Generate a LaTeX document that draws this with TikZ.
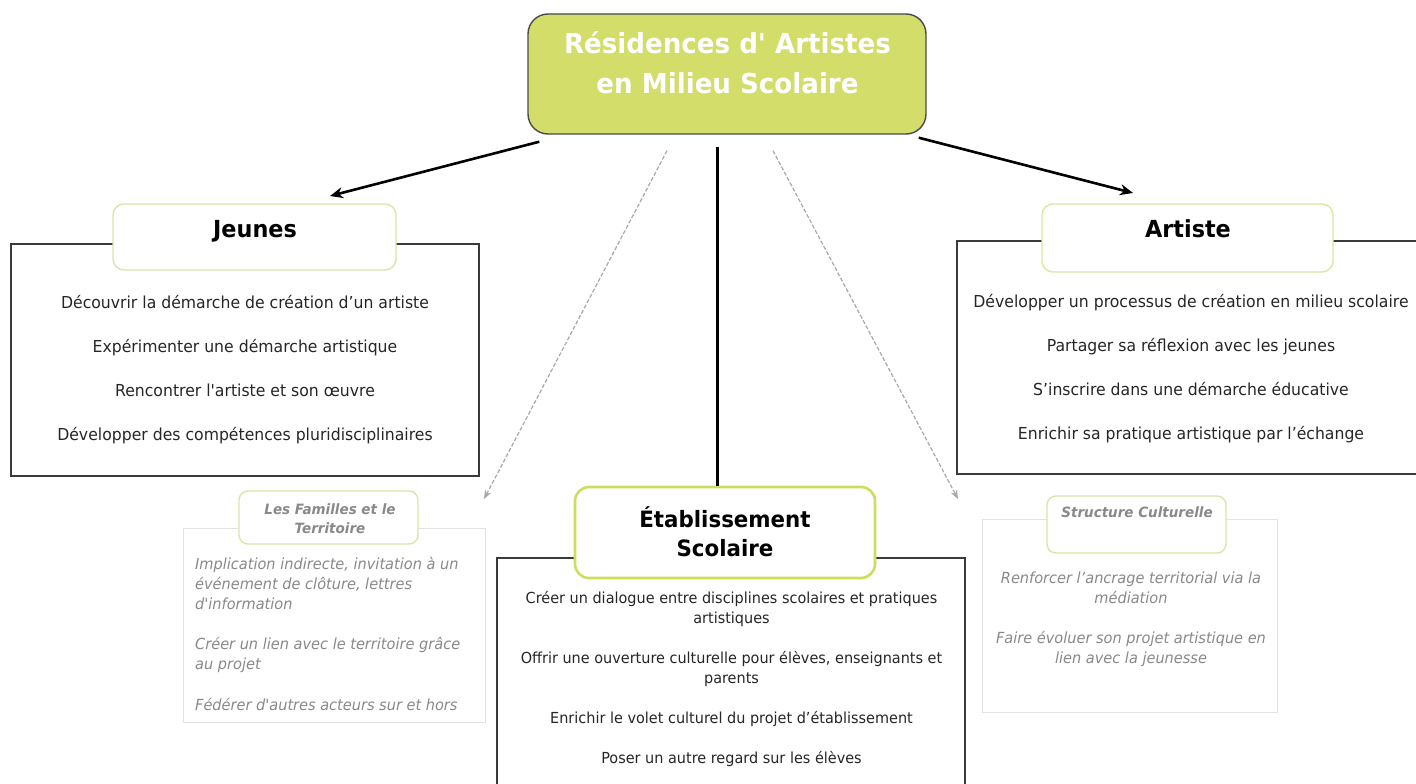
\documentclass[tikz,border=0pt]{standalone}
\usepackage{fontspec}
\setmainfont[FakeStretch=0.95,Ligatures=TeXOff]{DejaVu Sans}
\usetikzlibrary{arrows.meta}
\definecolor{titlefill}{HTML}{D3DD6A}
\definecolor{titledraw}{HTML}{4A4A4A}
\definecolor{hdrgreen}{HTML}{D9E6A6}
\definecolor{hdrstrong}{HTML}{CEDD5C}
\definecolor{boxdark}{HTML}{3A3A3A}
\definecolor{boxlight}{HTML}{E2E2E2}
\definecolor{graytext}{HTML}{898989}
\definecolor{dashgray}{HTML}{A8A8A8}
\tikzset{
  titlebox/.style={draw=titledraw, line width=1.4pt, fill=titlefill, rounded corners=20pt, inner sep=0pt},
  contentbox/.style={draw=boxdark, line width=1.1pt, fill=white, inner sep=0pt},
  lightbox/.style={draw=boxlight, line width=1pt, fill=white, inner sep=0pt},
  hdrbox/.style={draw=hdrgreen, line width=1.4pt, fill=white, rounded corners=11pt, inner sep=0pt},
  hdrstrongbox/.style={draw=hdrstrong, line width=2.6pt, fill=white, rounded corners=14pt, inner sep=0pt},
  txt/.style={inner sep=0pt, anchor=base, font=\fontsize{16.5}{20}\selectfont, text=black!85},
  etxt/.style={inner sep=0pt, anchor=base, font=\fontsize{15.2}{20}\selectfont, text=black!85},
  gtxt/.style={inner sep=0pt, font=\fontsize{15.3}{20}\selectfont\itshape, text=graytext},
  ttl/.style={inner sep=0pt, anchor=base, font=\fontsize{27.5}{40}\selectfont\bfseries, text=white},
  hdr/.style={inner sep=0pt, anchor=base, font=\fontsize{23.5}{30}\selectfont\bfseries, text=black},
  ghdr/.style={inner sep=0pt, anchor=base, font=\fontsize{14.2}{19}\selectfont\bfseries\itshape, text=graytext},
  mainarrow/.style={line width=2.6pt, black, -{Stealth[length=13pt,width=11pt]}},
  mainline/.style={line width=3pt, black},
  dasharrow/.style={line width=1.2pt, dashgray, dash pattern=on 4pt off 2pt, -{Stealth[length=9pt,width=7pt]}}
}
\begin{document}
\begin{tikzpicture}[x=1pt,y=-1pt]
\useasboundingbox (0,0) rectangle (1416,784);
\clip (0,0) rectangle (1416,784);
\fill[white] (0,0) rectangle (1416,784);

% content boxes (behind headers)
\node[contentbox, minimum width=468pt, minimum height=232pt] (jbox) at (245,360) {};
\node[contentbox, minimum width=480pt, minimum height=233pt] (abox) at (1197,357.5) {};
\node[contentbox, minimum width=468pt, minimum height=240pt] (ebox) at (731,678) {};
\node[lightbox, minimum width=302pt, minimum height=194pt] (fbox) at (334,625) {};
\node[lightbox, minimum width=295pt, minimum height=193pt] (sbox) at (1129.5,615.5) {};

% title
\node[titlebox, minimum width=398pt, minimum height=120pt] (title) at (727,74) {};
\node[ttl] (t1) at (727.5,53) {Résidences d' Artistes};
\node[ttl] (t2) at (727.5,93) {en Milieu Scolaire};

% headers
\node[hdrbox, minimum width=283pt, minimum height=66pt] (jhdr) at (254.5,237) {};
\node[hdr] (jt) at (255,237) {Jeunes};
\node[hdrbox, minimum width=291pt, minimum height=68pt] (ahdr) at (1187.5,238) {};
\node[hdr] (at) at (1188,237) {Artiste};
\node[hdrstrongbox, minimum width=300pt, minimum height=91pt] (ehdr) at (725,532.5) {};
\node[hdr, font=\fontsize{22.5}{30}\selectfont\bfseries] (et1) at (725,527) {Établissement};
\node[hdr, font=\fontsize{22.5}{30}\selectfont\bfseries] (et2) at (725,556) {Scolaire};
\node[hdrbox, rounded corners=9pt, minimum width=179pt, minimum height=53pt] (fhdr) at (328.5,517.5) {};
\node[ghdr] (ft1) at (330,514) {Les Familles et le};
\node[ghdr] (ft2) at (330,533) {Territoire};
\node[hdrbox, rounded corners=9pt, minimum width=179pt, minimum height=57pt] (shdr) at (1136.5,524.5) {};
\node[ghdr] (st) at (1137,517) {Structure Culturelle};

% Jeunes lines
\node[txt] (j1) at (245,308) {Découvrir la démarche de création d’un artiste};
\node[txt] (j2) at (245,352) {Expérimenter une démarche artistique};
\node[txt] (j3) at (245,396) {Rencontrer l'artiste et son œuvre};
\node[txt] (j4) at (245,440) {Développer des compétences pluridisciplinaires};

% Artiste lines
\node[txt] (a1) at (1191,307) {Développer un processus de création en milieu scolaire};
\node[txt] (a2) at (1191,351) {Partager sa réflexion avec les jeunes};
\node[txt] (a3) at (1191,395) {S’inscrire dans une démarche éducative};
\node[txt] (a4) at (1191,439) {Enrichir sa pratique artistique par l’échange};

% Etablissement lines
\node[etxt] (e1) at (731.5,603) {Créer un dialogue entre disciplines scolaires et pratiques};
\node[etxt] (e1b) at (731.5,623) {artistiques};
\node[etxt] (e2) at (731.5,663) {Offrir une ouverture culturelle pour élèves, enseignants et};
\node[etxt] (e2b) at (731.5,683) {parents};
\node[etxt] (e3) at (731.5,723) {Enrichir le volet culturel du projet d’établissement};
\node[etxt] (e4) at (731.5,763) {Poser un autre regard sur les élèves};

% Familles lines
\node[gtxt, anchor=base west] (f1) at (195,569) {Implication indirecte, invitation à un};
\node[gtxt, anchor=base west] (f2) at (195,589) {événement de clôture, lettres};
\node[gtxt, anchor=base west] (f3) at (195,609) {d'information};
\node[gtxt, anchor=base west] (f4) at (195,649) {Créer un lien avec le territoire grâce};
\node[gtxt, anchor=base west] (f5) at (195,669) {au projet};
\node[gtxt, anchor=base west] (f6) at (195,710) {Fédérer d'autres acteurs sur et hors};

% Structure lines
\node[gtxt, anchor=base] (s1) at (1131,583) {Renforcer l’ancrage territorial via la};
\node[gtxt, anchor=base] (s2) at (1131,603) {médiation};
\node[gtxt, anchor=base] (s3) at (1131,643) {Faire évoluer son projet artistique en};
\node[gtxt, anchor=base] (s4) at (1131,663) {lien avec la jeunesse};

% connectors
\coordinate (cj) at (330,196);
\coordinate (ca) at (1133,193);
\coordinate (cf) at (484,499);
\coordinate (cs) at (958,499);
\draw[mainarrow] ([shift={(12,7)}]title.south west) -- (cj);
\draw[mainarrow] ([shift={(-8,3)}]title.south east) -- (ca);
\draw[mainline] ([shift={(-9.5,12)}]title.south) -- ([xshift=-7.5pt]ehdr.north);
\draw[dasharrow] ([shift={(-60,16)}]title.south) -- (cf);
\draw[dasharrow] ([shift={(46,16)}]title.south) -- (cs);
\end{tikzpicture}
\end{document}
